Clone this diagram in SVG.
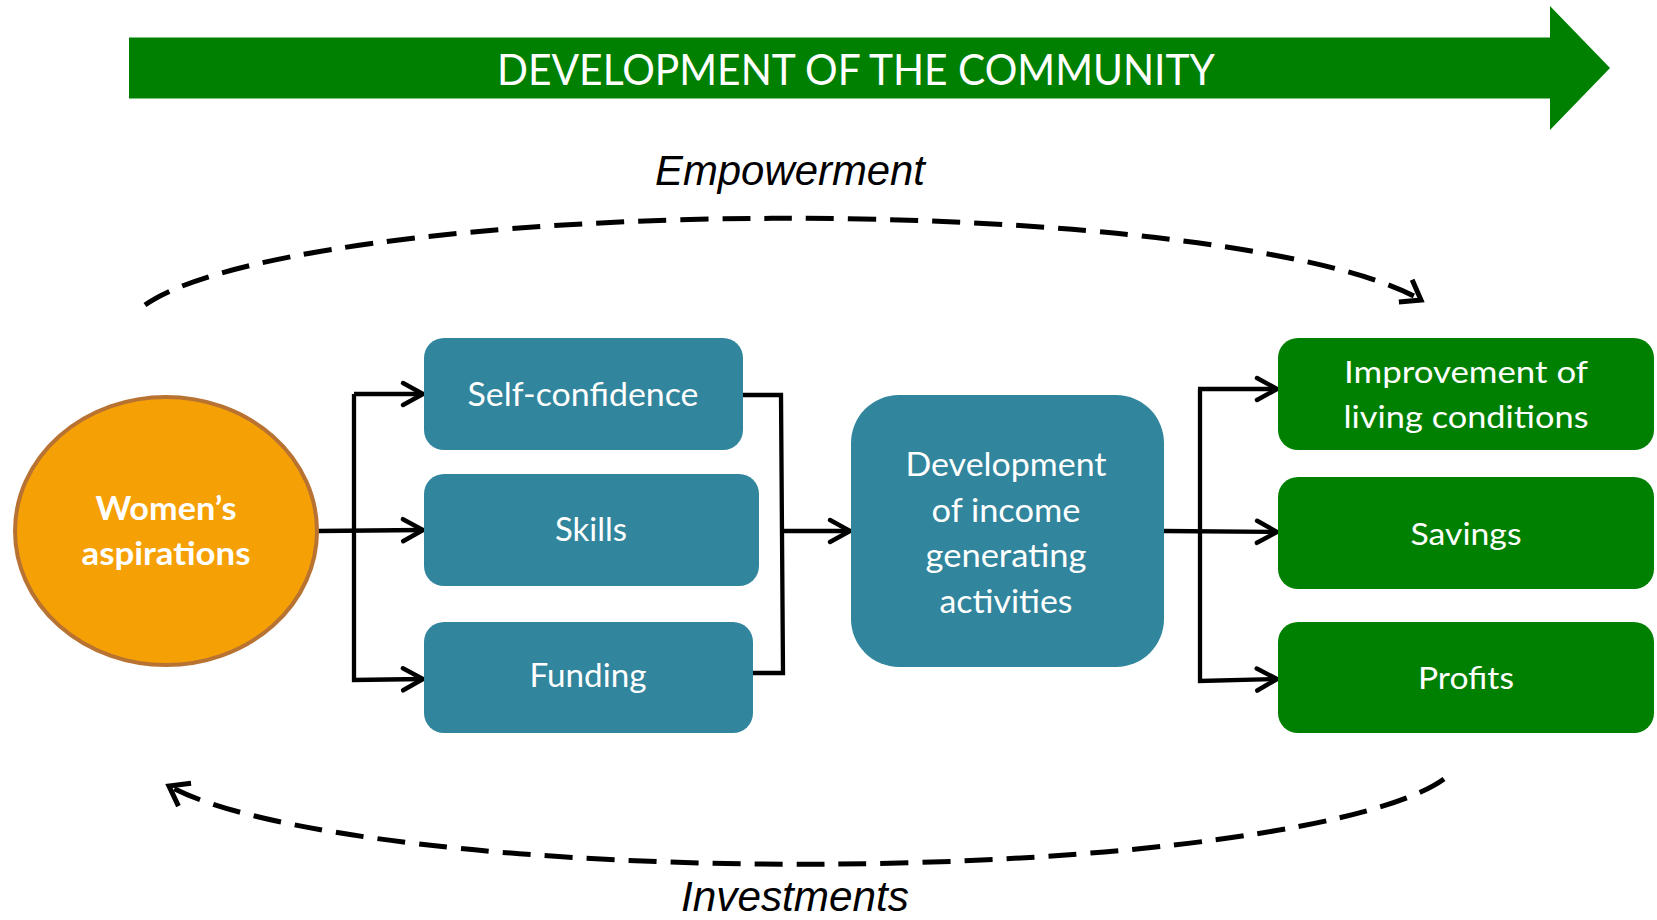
<svg xmlns="http://www.w3.org/2000/svg" width="1657" height="920" viewBox="0 0 1657 920">
<style>
.t{font-family:Lato,"Open Sans","Liberation Sans",sans-serif;fill:#fff;text-anchor:middle}
.b{fill:#31859C}
.g{fill:#008000}
.c{fill:none;stroke:#000;stroke-width:4.3;stroke-linejoin:miter}
.d{fill:none;stroke:#000;stroke-width:5;stroke-dasharray:28 14}
.lbl{font-family:"Liberation Sans",Arial,sans-serif;font-style:italic;font-size:42px;fill:#000;text-anchor:middle}
</style>
<defs>
<marker id="arr" markerUnits="userSpaceOnUse" markerWidth="40" markerHeight="40" viewBox="-30 -20 40 40" refX="0" refY="0" orient="auto" overflow="visible">
<path d="M-20,-11 L0,0 L-20,11" fill="none" stroke="#000" stroke-width="4.5" stroke-linecap="round" stroke-linejoin="miter"/>
</marker>
<marker id="arc" markerUnits="userSpaceOnUse" markerWidth="40" markerHeight="40" viewBox="-30 -20 40 40" refX="0" refY="0" orient="auto" overflow="visible">
<path d="M-18,-13 L0,0 L-18,13" fill="none" stroke="#000" stroke-width="5" stroke-linecap="butt" stroke-linejoin="miter"/>
</marker>
</defs>

<g id="banner">
<polygon class="g" points="129,37.5 1550,37.5 1550,6 1610,68 1550,130 1550,98.5 129,98.5"/>
<text class="t" x="856" y="85" font-size="43" textLength="718" lengthAdjust="spacingAndGlyphs">DEVELOPMENT OF THE COMMUNITY</text>
</g>

<g id="connectors">
<path class="d" d="M145,305 A660,113 0 0 1 1421,300" marker-end="url(#arc)"/>
<path class="d" d="M1444,779 A660,110 0 0 1 169,786" marker-end="url(#arc)"/>
<line class="c" x1="318" y1="531" x2="423" y2="530" marker-end="url(#arr)"/>
<polyline class="c" points="354,394 354,680 423,679" marker-end="url(#arr)"/>
<path class="c" d="M354,394 L423,394" marker-end="url(#arr)"/>
<polyline class="c" points="743,395 781,395 783,673 753,673"/>
<line class="c" x1="782" y1="531" x2="850" y2="531" marker-end="url(#arr)"/>
<line class="c" x1="1164" y1="531" x2="1277" y2="532" marker-end="url(#arr)"/>
<polyline class="c" points="1200,389 1200,681 1277,679" marker-end="url(#arr)"/>
<path class="c" d="M1198,389 L1277,389" marker-end="url(#arr)"/>
</g>

<g id="womens-aspirations">
<ellipse cx="166" cy="531" rx="151" ry="134" fill="#F5A005" stroke="#B87333" stroke-width="4"/>
<text class="t" x="166" y="520" font-size="32" font-weight="bold" textLength="141" lengthAdjust="spacingAndGlyphs">Women’s</text>
<text class="t" x="166" y="565" font-size="32" font-weight="bold" textLength="169" lengthAdjust="spacingAndGlyphs">aspirations</text>
</g>

<g id="self-confidence">
<rect class="b" x="424" y="338" width="319" height="112" rx="20"/>
<text class="t" x="583" y="406" font-size="32" textLength="231" lengthAdjust="spacingAndGlyphs">Self-confidence</text>
</g>
<g id="skills">
<rect class="b" x="424" y="474" width="335" height="112" rx="20"/>
<text class="t" x="591" y="541" font-size="32" textLength="72" lengthAdjust="spacingAndGlyphs">Skills</text>
</g>
<g id="funding">
<rect class="b" x="424" y="622" width="329" height="111" rx="20"/>
<text class="t" x="588" y="687" font-size="32" textLength="117" lengthAdjust="spacingAndGlyphs">Funding</text>
</g>

<g id="income-activities">
<rect class="b" x="851" y="395" width="313" height="272" rx="48"/>
<text class="t" x="1006" y="476" font-size="33" textLength="201" lengthAdjust="spacingAndGlyphs">Development</text>
<text class="t" x="1006" y="521.5" font-size="33" textLength="149" lengthAdjust="spacingAndGlyphs">of income</text>
<text class="t" x="1006" y="567" font-size="33" textLength="161" lengthAdjust="spacingAndGlyphs">generating</text>
<text class="t" x="1006" y="612.5" font-size="33" textLength="133" lengthAdjust="spacingAndGlyphs">activities</text>
</g>

<g id="living-conditions">
<rect class="g" x="1278" y="338" width="376" height="112" rx="20"/>
<text class="t" x="1466" y="383" font-size="31" textLength="244" lengthAdjust="spacingAndGlyphs">Improvement of</text>
<text class="t" x="1466" y="428" font-size="31" textLength="245" lengthAdjust="spacingAndGlyphs">living conditions</text>
</g>
<g id="savings">
<rect class="g" x="1278" y="477" width="376" height="112" rx="20"/>
<text class="t" x="1466" y="545" font-size="31" textLength="111" lengthAdjust="spacingAndGlyphs">Savings</text>
</g>
<g id="profits">
<rect class="g" x="1278" y="622" width="376" height="111" rx="20"/>
<text class="t" x="1466" y="689" font-size="31" textLength="96" lengthAdjust="spacingAndGlyphs">Profits</text>
</g>

<g id="labels">
<text class="lbl" x="790" y="185" textLength="270" lengthAdjust="spacingAndGlyphs">Empowerment</text>
<text class="lbl" x="795" y="911" textLength="228" lengthAdjust="spacingAndGlyphs">Investments</text>
</g>
</svg>
